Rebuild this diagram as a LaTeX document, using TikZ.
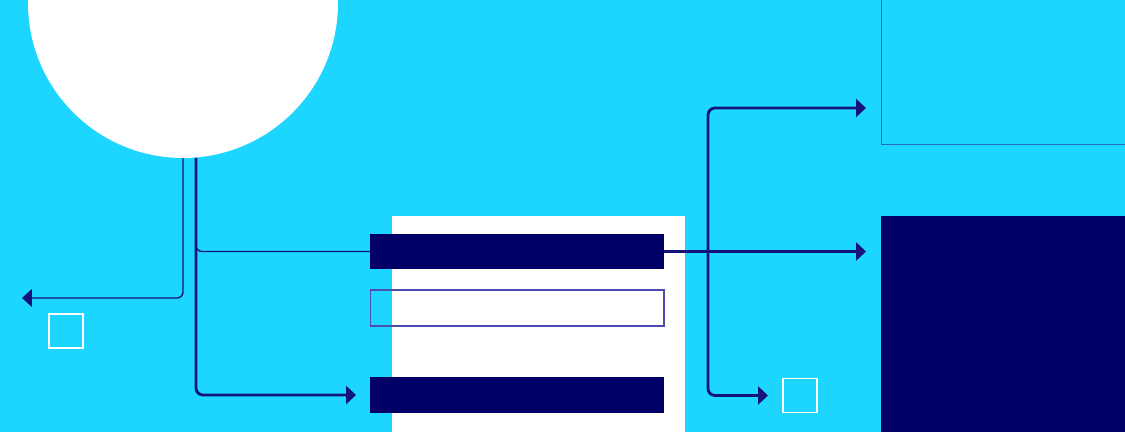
\documentclass[tikz,border=0pt]{standalone}
\usepackage{tikz}
\usetikzlibrary{arrows.meta}
\definecolor{sky}{HTML}{1DD6FF}
\definecolor{navy}{HTML}{000066}
\definecolor{ink}{HTML}{14147A}
\definecolor{edge}{HTML}{4B4BB0}
\definecolor{frame}{HTML}{2A6DB5}
\begin{document}
\begin{tikzpicture}[x=0.02cm, y=-0.02cm, inner sep=0, outer sep=0,
  bar/.style = {fill=navy, minimum width=5.88cm, minimum height=0.72cm},
  slot/.style = {draw=edge, line width=0.6pt, minimum width=5.88cm, minimum height=0.72cm},
  tick/.style = {draw=white, line width=0.6pt, minimum size=0.68cm},
  tip/.style = {-{Triangle[length=0.2cm, width=0.36cm]}},
  heavy/.style = {draw=ink, line width=1.6pt, rounded corners=0.14cm, tip},
  light/.style = {draw=ink, line width=0.8pt, rounded corners=0.12cm}]
\useasboundingbox (0,0) rectangle (1125,432);
\clip (0,0) rectangle (1125,432);
\fill[sky] (0,0) rectangle (1125,432);

\node[circle, fill=white, minimum size=6.2cm] (hub) at (183,3) {};
\node[fill=white, minimum width=5.88cm, minimum height=4.4cm] (panel) at (538.5,326) {};
\node[bar] (bar1) at (517,251.5) {};
\node[slot] (bar2) at (517,308) {};
\node[bar] (bar3) at (517,395) {};
\node[tick] (sqL) at (66,331) {};
\node[tick] (sqR) at (800,395.5) {};
\node[draw=frame, line width=0.6pt, minimum width=5cm, minimum height=3.1cm] (boxTop) at (1006,67) {};
\node[fill=navy, minimum width=5cm, minimum height=4.5cm] (boxBot) at (1006,328) {};

\coordinate (tipL) at (22,298);
\coordinate (split) at (196,236);
\coordinate (fork) at (708,251.5);
\coordinate (tipTop) at (866,108);

\draw[light, tip] (hub.south) |- (tipL);
\draw[heavy, shorten >=0.28cm] ([xshift=0.26cm]hub.south) |- (bar3.west);
\draw[light] (split) |- (bar1.west);
\draw[heavy, shorten >=0.3cm] (bar1.east) -- (bar1.east -| boxBot.west);
\draw[heavy] (fork) |- (tipTop);
\draw[heavy, shorten >=0.3cm] (fork) |- (sqR.west);
\end{tikzpicture}
\end{document}
